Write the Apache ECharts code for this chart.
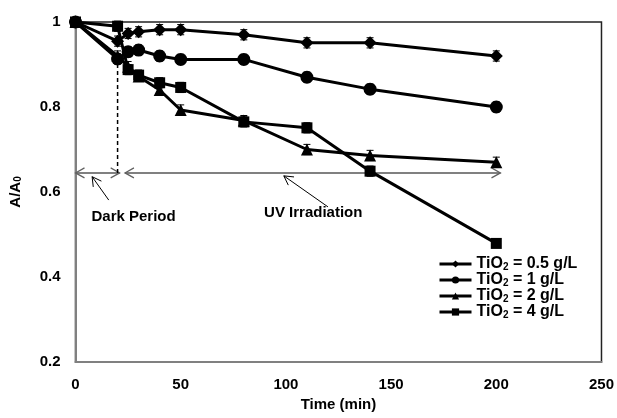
<!DOCTYPE html>
<html>
<head>
<meta charset="utf-8">
<script src="https://cdn.jsdelivr.net/npm/echarts@6/dist/echarts.min.js"></script>
<style>
  html, body { margin: 0; padding: 0; background: #fff; }
  #chart { width: 617px; height: 418px; }
</style>
</head>
<body>
<div id="chart"></div>
<script>
// Time points (min)
const times = [0, 20, 25, 30, 40, 50, 80, 110, 140, 200]

// A/A0 per catalyst loading
const tio05 = [1, 0.955, 0.973, 0.977, 0.982, 0.982, 0.97, 0.951, 0.951, 0.92]
const tio1 = [1, 0.913, 0.93, 0.934, 0.92, 0.912, 0.912, 0.87, 0.842, 0.8]
const tio2 = [1, 0.92, 0.895, 0.872, 0.84, 0.793, 0.768, 0.70, 0.686, 0.67]
const tio4 = [1, 0.99, 0.888, 0.875, 0.857, 0.846, 0.765, 0.751, 0.649, 0.479]

// error bar half-widths
const err05 = [0, 0.012, 0.012, 0.012, 0.012, 0.012, 0.012, 0.012, 0.012, 0.012]
const err1 = [0, 0.012, 0.012, 0.012, 0.012, 0.012, 0.012, 0.012, 0.012, 0.012]
const err2 = [0, 0.012, 0.012, 0.012, 0.012, 0.012, 0.012, 0.012, 0.012, 0.012]
const err4 = [0, 0.012, 0.012, 0.012, 0.012, 0.012, 0.012, 0.012, 0.012, 0.008]

const seriesNames = ['TiO2 = 0.5 g/L', 'TiO2 = 1 g/L', 'TiO2 = 2 g/L', 'TiO2 = 4 g/L']
const symbols = ['diamond', 'circle', 'triangle', 'rect']
const symbolSizes = [13, 13, 12, 11]

const xTicks = { min: 0, max: 250, step: 50 }
const yTicks = { min: 0.2, max: 1, step: 0.2 }

// annotation geometry (data units)
const arrowLevel = 0.645
const darkSpan = [0, 21]
const uvSpan = [23.5, 202]
const darkDash = [20, 0.645, 0.91]
const darkCallout = [[15.8, 0.581], [7.9, 0.636]]
const uvCallout = [[120, 0.565], [99, 0.638]]
const darkLabel = [27.6, 0.541]
const uvLabel = [113, 0.551]

const FONT = '"Liberation Sans", Arial, sans-serif'

const allVals = [tio05, tio1, tio2, tio4]
const allErr = [err05, err1, err2, err4]

const chart = echarts.init(document.getElementById('chart'))

// open arrowhead (chevron) at tip, pointing along direction from -> tip
function chevron(tip, from, len, half) {
  const dx = tip[0] - from[0]
  const dy = tip[1] - from[1]
  const d = Math.sqrt(dx * dx + dy * dy) || 1
  const ux = dx / d, uy = dy / d
  const bx = tip[0] - ux * len, by = tip[1] - uy * len
  return [
    [bx - uy * half, by + ux * half],
    tip,
    [bx + uy * half, by - ux * half]
  ]
}

const lineSeries = seriesNames.map((name, k) => ({
  name: name,
  type: 'line',
  data: times.map((t, i) => [t, allVals[k][i]]),
  symbol: symbols[k],
  symbolSize: symbolSizes[k],
  showAllSymbol: true,
  lineStyle: { color: '#000', width: 3 },
  itemStyle: { color: '#000' },
  z: 3,
  animation: false
}))

const errorData = []
allVals.forEach((vals, k) => {
  vals.forEach((v, i) => {
    if (allErr[k][i] > 0) errorData.push([times[i], v - allErr[k][i], v + allErr[k][i]])
  })
})

const errorSeries = {
  type: 'custom',
  name: 'err',
  data: errorData,
  z: 2,
  silent: true,
  animation: false,
  renderItem: function (params, api) {
    const lo = api.coord([api.value(0), api.value(1)])
    const hi = api.coord([api.value(0), api.value(2)])
    const w = 3.5
    const st = { stroke: '#000', lineWidth: 1 }
    return {
      type: 'group',
      children: [
        { type: 'line', shape: { x1: lo[0], y1: lo[1], x2: hi[0], y2: hi[1] }, style: st },
        { type: 'line', shape: { x1: lo[0] - w, y1: lo[1], x2: lo[0] + w, y2: lo[1] }, style: st },
        { type: 'line', shape: { x1: hi[0] - w, y1: hi[1], x2: hi[0] + w, y2: hi[1] }, style: st }
      ]
    }
  }
}

const annotSeries = {
  type: 'custom',
  name: 'annot',
  data: [[0, 0]],
  z: 1,
  silent: true,
  clip: false,
  animation: false,
  renderItem: function (params, api) {
    const c = (p) => api.coord(p)
    const gray = { stroke: '#808080', lineWidth: 2, fill: 'none' }
    const thin = { stroke: '#000', lineWidth: 1, fill: 'none' }
    const kids = []
    ;[darkSpan, uvSpan].forEach((span) => {
      const a = c([span[0], arrowLevel])
      const b = c([span[1], arrowLevel])
      kids.push({ type: 'line', shape: { x1: a[0], y1: a[1], x2: b[0], y2: b[1] }, style: gray })
      kids.push({ type: 'polyline', shape: { points: chevron(a, b, 9, 5) }, style: { stroke: '#606060', lineWidth: 1.2, fill: 'none' } })
      kids.push({ type: 'polyline', shape: { points: chevron(b, a, 9, 5) }, style: { stroke: '#606060', lineWidth: 1.2, fill: 'none' } })
    })
    const d1 = c([darkDash[0], darkDash[1]])
    const d2 = c([darkDash[0], darkDash[2]])
    kids.push({ type: 'line', shape: { x1: d1[0], y1: d1[1], x2: d2[0], y2: d2[1] }, style: { stroke: '#000', lineWidth: 1.5, lineDash: [4, 3] } })
    ;[darkCallout, uvCallout].forEach((cl) => {
      const from = c(cl[0])
      const tip = c(cl[1])
      kids.push({ type: 'line', shape: { x1: from[0], y1: from[1], x2: tip[0], y2: tip[1] }, style: thin })
      kids.push({ type: 'polyline', shape: { points: chevron(tip, from, 9, 5) }, style: thin })
    })
    ;[[darkLabel, 'Dark Period'], [uvLabel, 'UV Irradiation']].forEach((lb) => {
      const p = c(lb[0])
      kids.push({
        type: 'text',
        x: p[0], y: p[1],
        style: { text: lb[1], font: 'bold 15px ' + FONT, fill: '#000', align: 'center', verticalAlign: 'middle' }
      })
    })
    return { type: 'group', children: kids }
  }
}

const option = {
  animation: false,
  backgroundColor: '#fff',
  textStyle: { fontFamily: FONT },
  grid: {
    left: 75, right: 15, top: 22, bottom: 56,
    show: true, borderColor: '#222', borderWidth: 1.5
  },
  legend: {
    orient: 'vertical',
    left: 433,
    top: 251,
    itemWidth: 32,
    itemHeight: 9,
    itemGap: 0,
    data: seriesNames,
    lineStyle: { color: '#000', width: 3 },
    textStyle: {
      fontFamily: FONT, fontWeight: 'bold', fontSize: 16, color: '#000',
      rich: {
        b: { fontFamily: FONT, fontWeight: 'bold', fontSize: 16, color: '#000', lineHeight: 16 },
        sub: { fontFamily: FONT, fontWeight: 'bold', fontSize: 10, color: '#000', verticalAlign: 'bottom', lineHeight: 10 }
      }
    },
    formatter: (name) => '{b|TiO}{sub|2}{b|' + name.slice(4) + '}'
  },
  xAxis: {
    type: 'value',
    min: xTicks.min, max: xTicks.max, interval: xTicks.step,
    name: 'Time (min)',
    nameLocation: 'middle',
    nameGap: 33,
    nameTextStyle: { fontFamily: FONT, fontWeight: 'bold', fontSize: 15, color: '#000' },
    axisLine: { lineStyle: { color: '#808080', width: 2 } },
    axisTick: { show: false },
    splitLine: { show: false },
    axisLabel: { fontFamily: FONT, fontWeight: 'bold', fontSize: 15, color: '#000', margin: 15 }
  },
  yAxis: {
    type: 'value',
    min: yTicks.min, max: yTicks.max, interval: yTicks.step,
    name: '{b|A/A}{sub|0}',
    nameLocation: 'middle',
    nameRotate: 90,
    nameGap: 52,
    nameTextStyle: {
      rich: {
        b: { fontFamily: FONT, fontWeight: 'bold', fontSize: 15, color: '#000', lineHeight: 16 },
        sub: { fontFamily: FONT, fontWeight: 'bold', fontSize: 10, color: '#000', verticalAlign: 'bottom', lineHeight: 10 }
      }
    },
    axisLine: { show: true, lineStyle: { color: '#808080', width: 2 } },
    axisTick: { show: false },
    splitLine: { show: false },
    axisLabel: { fontFamily: FONT, fontWeight: 'bold', fontSize: 15, color: '#000', margin: 15 }
  },
  series: [annotSeries, errorSeries].concat(lineSeries)
}

chart.setOption(option)
</script>
</body>
</html>
